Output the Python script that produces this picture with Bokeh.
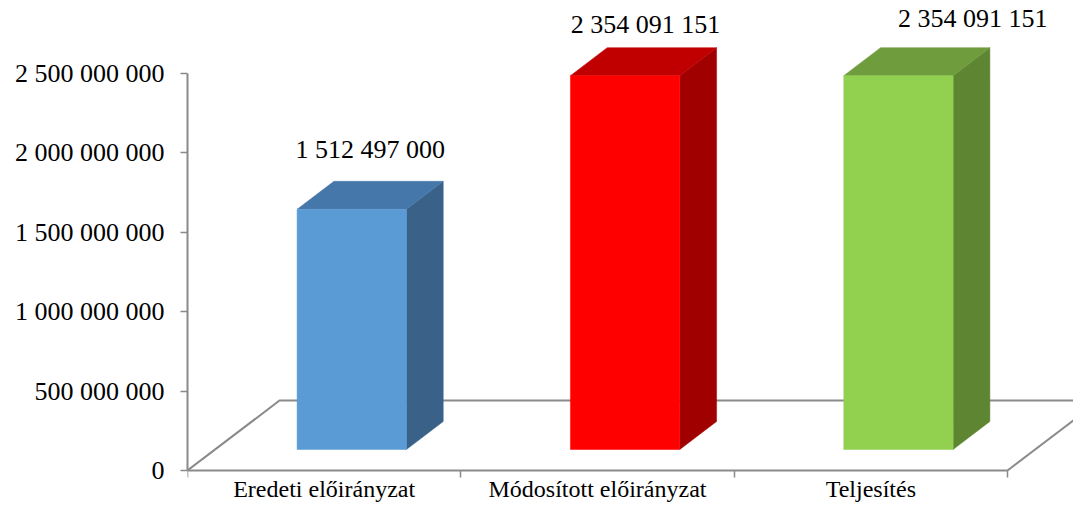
from bokeh.plotting import figure
from bokeh.models import (Range1d, FixedTicker, CustomJSTickFormatter,
                          ColumnDataSource, LabelSet)
from bokeh.embed import file_html
from bokeh.resources import INLINE

# ---------------- data ----------------
categories = ["Eredeti előirányzat", "Módosított előirányzat", "Teljesítés"]
values = [1512497000, 2354091151, 2354091151]
y_ticks = [0, 500000000, 1000000000, 1500000000, 2000000000, 2500000000]

# ---------------- style ----------------
front_colors = ["#5B9BD5", "#FF0000", "#92D050"]
top_colors = ["#4677AA", "#C00000", "#6F9C3D"]
side_colors = ["#3A6289", "#A00000", "#5E8632"]
AXIS_COLOR = "#8A8A8A"
FONT = "Liberation Serif"
FS = "26px"
CAT_FS = "24px"

W, H = 1073, 505
LEFT = 187               # x of the value axis
ZERO_PX = 470            # y (from top) of the zero line
n = len(categories)
px_x = 820 / n                       # px per category unit
px_y = 397 / y_ticks[-1]             # px per value unit
frame_w = W - LEFT
x_end = frame_w / px_x
y_start = -(H - ZERO_PX) / px_y
y_end = ZERO_PX / px_y

DEPTH_DX = 92 / px_x                  # floor depth, data units
DEPTH_DY = 70 / px_y
BAR_W = 0.4
D0, D1 = 0.3, 0.7                     # bar depth span (fraction of floor depth)
LABEL_DX_PX = [0, 2, 56]
LABEL_GAP_PX = [23, 15, 21]

p = figure(width=W, height=H, output_backend="svg", toolbar_location=None,
           x_range=Range1d(0, x_end), y_range=Range1d(y_start, y_end),
           min_border_left=LEFT, min_border_bottom=0,
           min_border_top=0, min_border_right=0)
p.outline_line_color = None
p.grid.visible = False
p.background_fill_color = "white"
p.border_fill_color = "white"

# y axis
ya = p.yaxis[0]
ya.ticker = FixedTicker(ticks=y_ticks)
ya.bounds = (0, y_ticks[-1])
ya.formatter = CustomJSTickFormatter(
    code='return tick.toFixed(0).replace(/\\B(?=(\\d{3})+(?!\\d))/g, " ");')
ya.axis_line_color = AXIS_COLOR
ya.axis_line_width = 2
ya.major_tick_line_color = AXIS_COLOR
ya.major_tick_line_width = 1.5
ya.major_tick_out = 7
ya.major_tick_in = 0
ya.minor_tick_line_color = None
ya.major_label_text_font = FONT
ya.major_label_text_font_size = FS
ya.major_label_text_color = "black"
ya.major_label_standoff = 16

# x axis: drawn at value 0, labels at category centres, ticks at boundaries
xa = p.xaxis[0]
xa.fixed_location = 0
xa.ticker = FixedTicker(ticks=[i + 0.5 for i in range(n)],
                        minor_ticks=list(range(n + 1)))
xa.bounds = (0, n)
xa.formatter = CustomJSTickFormatter(args=dict(cats=categories),
                                     code="return cats[Math.floor(tick)];")
xa.axis_line_color = AXIS_COLOR
xa.axis_line_width = 2
xa.major_tick_line_color = None
xa.major_tick_out = 7
xa.major_tick_in = 0
xa.minor_tick_line_color = AXIS_COLOR
xa.minor_tick_line_width = 1.5
xa.minor_tick_out = 7
xa.minor_tick_in = 0
xa.major_label_text_font = FONT
xa.major_label_text_font_size = CAT_FS
xa.major_label_text_color = "black"
xa.major_label_standoff = -2

# floor
p.multi_line(xs=[[0, DEPTH_DX, n + DEPTH_DX], [n, n + DEPTH_DX]],
             ys=[[0, DEPTH_DY, DEPTH_DY], [0, DEPTH_DY]],
             line_color=AXIS_COLOR, line_width=2)

# bars
fx, fy, tx, ty, sx, sy = [], [], [], [], [], []
for i, v in enumerate(values):
    xl = i + 0.5 - BAR_W / 2
    xr = i + 0.5 + BAR_W / 2
    ax0, ay0 = D0 * DEPTH_DX, D0 * DEPTH_DY
    ax1, ay1 = D1 * DEPTH_DX, D1 * DEPTH_DY
    fx.append([xl + ax0, xr + ax0, xr + ax0, xl + ax0])
    fy.append([ay0, ay0, v + ay0, v + ay0])
    tx.append([xl + ax0, xr + ax0, xr + ax1, xl + ax1])
    ty.append([v + ay0, v + ay0, v + ay1, v + ay1])
    sx.append([xr + ax0, xr + ax1, xr + ax1, xr + ax0])
    sy.append([ay0, ay1, v + ay1, v + ay0])

p.patches(sx, sy, fill_color=side_colors, line_color=side_colors, line_width=0.5)
p.patches(tx, ty, fill_color=top_colors, line_color=top_colors, line_width=0.5)
p.patches(fx, fy, fill_color=front_colors, line_color=front_colors, line_width=0.5)

# value labels
lab_x = [i + 0.5 + 0.5 * DEPTH_DX + LABEL_DX_PX[i] / px_x for i in range(n)]
lab_y = [v + D1 * DEPTH_DY + LABEL_GAP_PX[i] / px_y for i, v in enumerate(values)]
lab_t = [f"{v:,}".replace(",", " ") for v in values]
p.add_layout(LabelSet(x="x", y="y", text="t",
                      source=ColumnDataSource(dict(x=lab_x, y=lab_y, t=lab_t)),
                      text_font=FONT, text_font_size=FS, text_color="black",
                      text_align="center", text_baseline="alphabetic"))

open("out.html", "w").write(file_html(p, INLINE))
